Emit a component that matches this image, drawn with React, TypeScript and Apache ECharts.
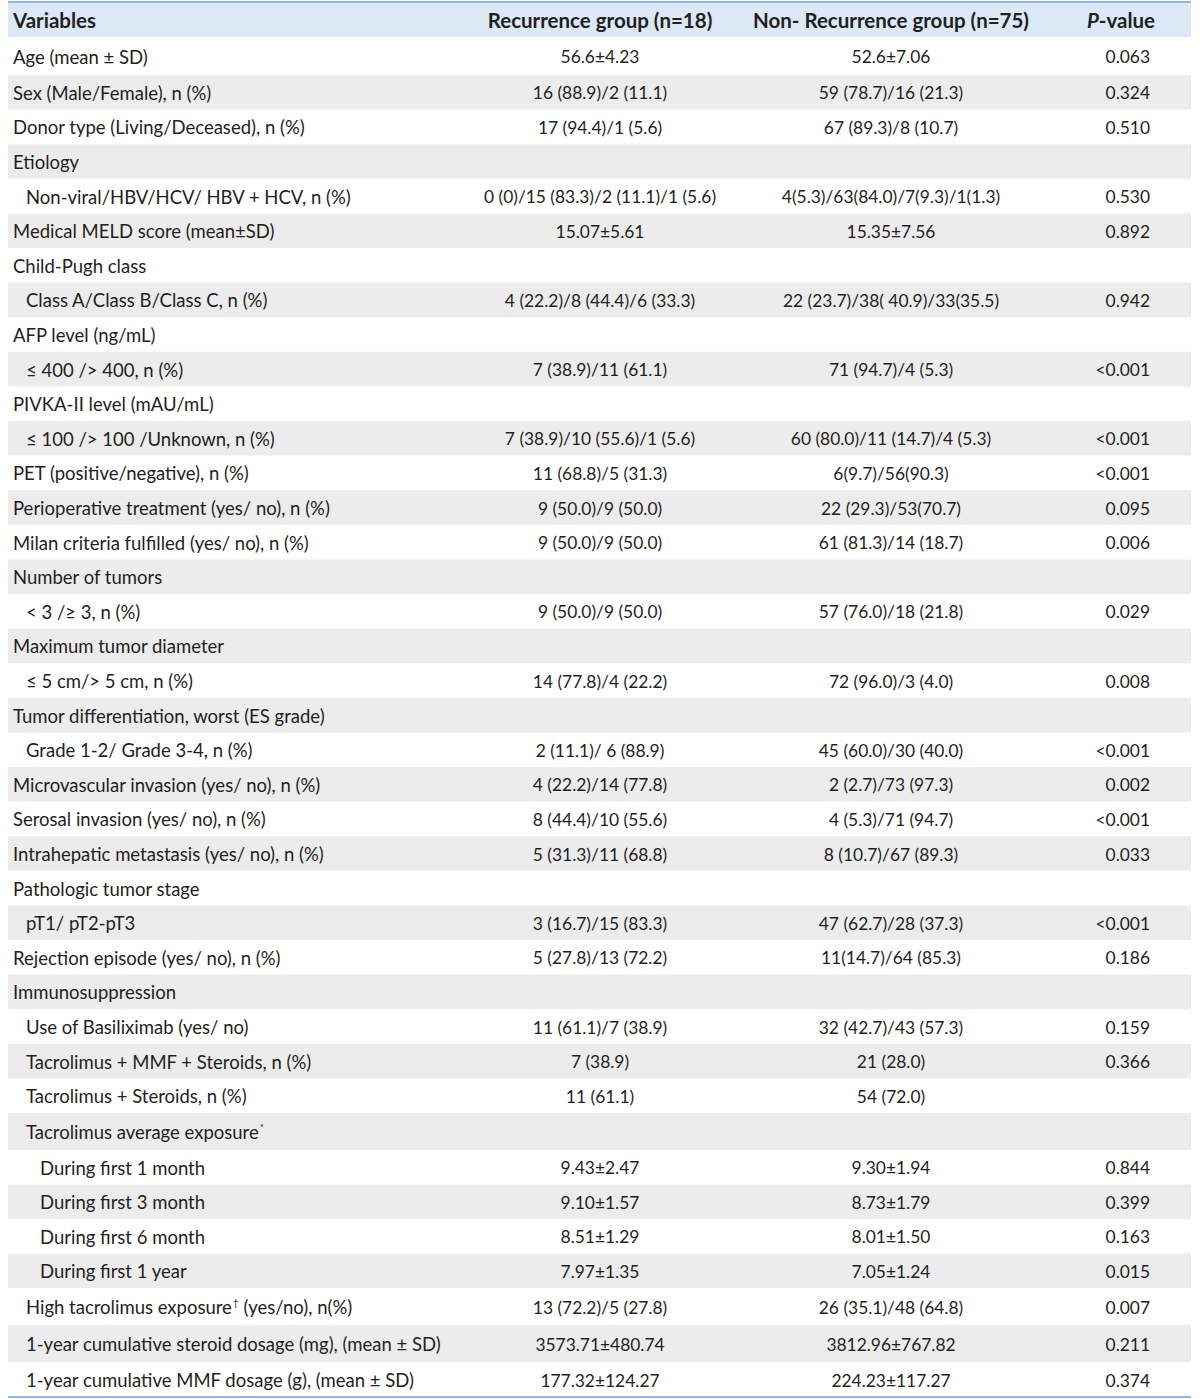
import React, { useEffect, useRef } from "react";
import * as echarts from "echarts";

const headers = ["Variables", "Recurrence group (n=18)", "Non- Recurrence group (n=75)", "{i|P}{b|-value}"];

const variables = [
  "Age (mean ± SD)",
  "Sex (Male/Female), n (%)",
  "Donor type (Living/Deceased), n (%)",
  "Etiology",
  "Non-viral/HBV/HCV/ HBV + HCV, n (%)",
  "Medical MELD score (mean±SD)",
  "Child-Pugh class",
  "Class A/Class B/Class C, n (%)",
  "AFP level (ng/mL)",
  "≤ 400 /> 400, n (%)",
  "PIVKA-II level (mAU/mL)",
  "≤ 100 /> 100 /Unknown, n (%)",
  "PET (positive/negative), n (%)",
  "Perioperative treatment (yes/ no), n (%)",
  "Milan criteria fulfilled (yes/ no), n (%)",
  "Number of tumors",
  "< 3 /≥ 3, n (%)",
  "Maximum tumor diameter",
  "≤ 5 cm/> 5 cm, n (%)",
  "Tumor differentiation, worst (ES grade)",
  "Grade 1-2/ Grade 3-4, n (%)",
  "Microvascular invasion (yes/ no), n (%)",
  "Serosal invasion (yes/ no), n (%)",
  "Intrahepatic metastasis (yes/ no), n (%)",
  "Pathologic tumor stage",
  "pT1/ pT2-pT3",
  "Rejection episode (yes/ no), n (%)",
  "Immunosuppression",
  "Use of Basiliximab (yes/ no)",
  "Tacrolimus + MMF + Steroids, n (%)",
  "Tacrolimus + Steroids, n (%)",
  "Tacrolimus average exposure{sup|*}",
  "During first 1 month",
  "During first 3 month",
  "During first 6 month",
  "During first 1 year",
  "High tacrolimus exposure{sup|†} (yes/no), n(%)",
  "1-year cumulative steroid dosage (mg), (mean ± SD)",
  "1-year cumulative MMF dosage (g), (mean ± SD)",
];

const indentLevels = [
  0, 0, 0, 0, 1, 0, 0, 1, 0, 1, 0, 1, 0, 0, 0, 0, 1, 0, 1, 0, 1, 0, 0, 0, 0, 1, 0, 0,
  1, 1, 1, 1, 2, 2, 2, 2, 1, 1, 1,
];

const recurrence = [
  "56.6±4.23",
  "16 (88.9)/2 (11.1)",
  "17 (94.4)/1 (5.6)",
  "",
  "0 (0)/15 (83.3)/2 (11.1)/1 (5.6)",
  "15.07±5.61",
  "",
  "4 (22.2)/8 (44.4)/6 (33.3)",
  "",
  "7 (38.9)/11 (61.1)",
  "",
  "7 (38.9)/10 (55.6)/1 (5.6)",
  "11 (68.8)/5 (31.3)",
  "9 (50.0)/9 (50.0)",
  "9 (50.0)/9 (50.0)",
  "",
  "9 (50.0)/9 (50.0)",
  "",
  "14 (77.8)/4 (22.2)",
  "",
  "2 (11.1)/ 6 (88.9)",
  "4 (22.2)/14 (77.8)",
  "8 (44.4)/10 (55.6)",
  "5 (31.3)/11 (68.8)",
  "",
  "3 (16.7)/15 (83.3)",
  "5 (27.8)/13 (72.2)",
  "",
  "11 (61.1)/7 (38.9)",
  "7 (38.9)",
  "11 (61.1)",
  "",
  "9.43±2.47",
  "9.10±1.57",
  "8.51±1.29",
  "7.97±1.35",
  "13 (72.2)/5 (27.8)",
  "3573.71±480.74",
  "177.32±124.27",
];

const nonRecurrence = [
  "52.6±7.06",
  "59 (78.7)/16 (21.3)",
  "67 (89.3)/8 (10.7)",
  "",
  "4(5.3)/63(84.0)/7(9.3)/1(1.3)",
  "15.35±7.56",
  "",
  "22 (23.7)/38( 40.9)/33(35.5)",
  "",
  "71 (94.7)/4 (5.3)",
  "",
  "60 (80.0)/11 (14.7)/4 (5.3)",
  "6(9.7)/56(90.3)",
  "22 (29.3)/53(70.7)",
  "61 (81.3)/14 (18.7)",
  "",
  "57 (76.0)/18 (21.8)",
  "",
  "72 (96.0)/3 (4.0)",
  "",
  "45 (60.0)/30 (40.0)",
  "2 (2.7)/73 (97.3)",
  "4 (5.3)/71 (94.7)",
  "8 (10.7)/67 (89.3)",
  "",
  "47 (62.7)/28 (37.3)",
  "11(14.7)/64 (85.3)",
  "",
  "32 (42.7)/43 (57.3)",
  "21 (28.0)",
  "54 (72.0)",
  "",
  "9.30±1.94",
  "8.73±1.79",
  "8.01±1.50",
  "7.05±1.24",
  "26 (35.1)/48 (64.8)",
  "3812.96±767.82",
  "224.23±117.27",
];

const pValues = [
  "0.063",
  "0.324",
  "0.510",
  "",
  "0.530",
  "0.892",
  "",
  "0.942",
  "",
  "<0.001",
  "",
  "<0.001",
  "<0.001",
  "0.095",
  "0.006",
  "",
  "0.029",
  "",
  "0.008",
  "",
  "<0.001",
  "0.002",
  "<0.001",
  "0.033",
  "",
  "<0.001",
  "0.186",
  "",
  "0.159",
  "0.366",
  "",
  "",
  "0.844",
  "0.399",
  "0.163",
  "0.015",
  "0.007",
  "0.211",
  "0.374",
];

// ---- layout (not data) ----
const TABLE_LEFT = 8;
const TABLE_RIGHT = 1191;
const TABLE_TOP = 2;
const HEADER_H = 35;
function rowHeight(i: number): number {
  if (i === 0) return 38;
  if (i <= 30) return 34.6;
  if (i === 31) return 37;
  if (i <= 35) return 34.5;
  if (i <= 37) return 37;
  return 35;
}
const INDENT_X = [13, 26, 40];
const COL2_X = 600;
const COL3_X = 891;
const COL4_RIGHT = 1150;
const HEADER_P_X = 1121;

const FONT = "Lato, 'Noto Sans', sans-serif";
const TEXT_COLOR = "#231f20";
const FS = 18.5;
const FS_VAL = 17.4;
const FS_HEAD = 20.5;

const baseRich = {
  sup: { fontSize: 10, fontFamily: FONT, fill: TEXT_COLOR, verticalAlign: "top", padding: [0, 0, 10, 1] },
  i: { fontSize: FS_HEAD, fontFamily: FONT, fontWeight: "bold", fontStyle: "italic", fill: TEXT_COLOR },
  b: { fontSize: FS_HEAD, fontFamily: FONT, fontWeight: "bold", fill: TEXT_COLOR },
};

function txt(text: string, x: number, y: number, align: string, size: number, bold = false) {
  return {
    type: "text",
    silent: true,
    style: {
      text,
      x,
      y,
      align,
      verticalAlign: "middle",
      fill: TEXT_COLOR,
      fontSize: size,
      fontFamily: FONT,
      fontWeight: bold ? "bold" : "normal",
      rich: baseRich,
    },
    z: 10,
  };
}

export default function App() {
  const ref = useRef<HTMLDivElement>(null);
  useEffect(() => {
    if (!ref.current) return;
    const chart = echarts.init(ref.current, undefined, { renderer: "svg" });
    const els: any[] = [];
    // header background
    els.push({
      type: "rect",
      silent: true,
      shape: { x: TABLE_LEFT, y: TABLE_TOP, width: TABLE_RIGHT - TABLE_LEFT, height: HEADER_H },
      style: { fill: "#dbe8f5" },
      z: 1,
    });
    const headY = TABLE_TOP + HEADER_H / 2 + 0.5;
    els.push(txt(headers[0], INDENT_X[0], headY, "left", FS_HEAD, true));
    els.push(txt(headers[1], COL2_X, headY, "center", FS_HEAD, true));
    els.push(txt(headers[2], COL3_X, headY, "center", FS_HEAD, true));
    els.push(txt(headers[3], HEADER_P_X, headY, "center", FS_HEAD, true));

    let y = TABLE_TOP + HEADER_H;
    for (let i = 0; i < variables.length; i++) {
      const h = rowHeight(i);
      if (i % 2 === 1) {
        els.push({
          type: "rect",
          silent: true,
          shape: { x: TABLE_LEFT, y, width: TABLE_RIGHT - TABLE_LEFT, height: h },
          style: { fill: "#ebeceb" },
          z: 1,
        });
      }
      const cy = y + h / 2 + 0.5;
      els.push(txt(variables[i], INDENT_X[indentLevels[i]], cy, "left", FS));
      if (recurrence[i]) els.push(txt(recurrence[i], COL2_X, cy, "center", FS_VAL));
      if (nonRecurrence[i]) els.push(txt(nonRecurrence[i], COL3_X, cy, "center", FS_VAL));
      if (pValues[i]) els.push(txt(pValues[i], COL4_RIGHT, cy, "right", FS_VAL));
      y += h;
    }
    // borders
    els.push({
      type: "line",
      silent: true,
      shape: { x1: TABLE_LEFT, y1: TABLE_TOP, x2: TABLE_RIGHT, y2: TABLE_TOP },
      style: { stroke: "#92b8dc", lineWidth: 2 },
      z: 5,
    });
    els.push({
      type: "line",
      silent: true,
      shape: { x1: TABLE_LEFT, y1: y, x2: TABLE_RIGHT, y2: y },
      style: { stroke: "#92b8dc", lineWidth: 2 },
      z: 5,
    });

    chart.setOption({
      animation: false,
      backgroundColor: "#ffffff",
      graphic: { elements: els },
    });
    return () => chart.dispose();
  }, []);
  return (
    <div
      ref={ref}
      style={{ position: "absolute", left: 0, top: 0, width: 1200, height: 1399 }}
    />
  );
}
